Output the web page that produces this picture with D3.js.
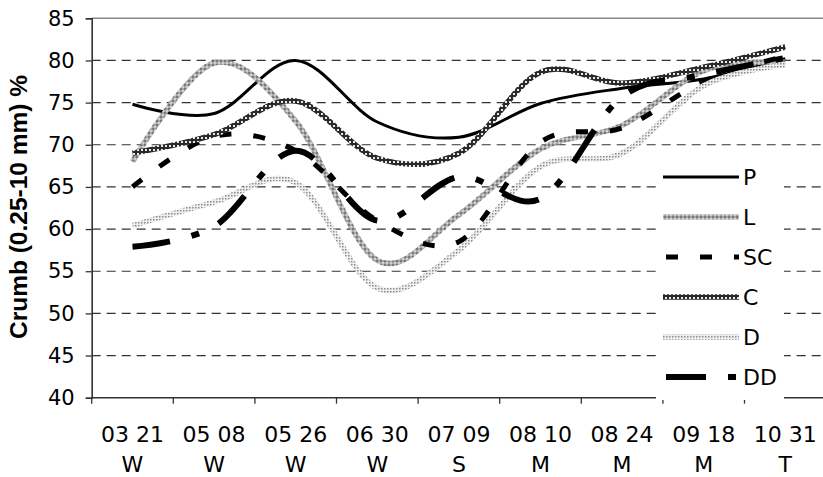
<!DOCTYPE html>
<html>
<head>
<meta charset="utf-8">
<script src="https://cdn.jsdelivr.net/npm/d3@7"></script>
<style>
  html, body { margin: 0; padding: 0; background: #fff; }
  svg { display: block; }
  text { font-family: "DejaVu Sans", "Liberation Sans", Arial, sans-serif; fill: #000; }
</style>
</head>
<body>
<svg id="chart" width="823" height="477"></svg>
<script>
// ---- data ----
const categories = ["03 21", "05 08", "05 26", "06 30", "07 09", "08 10", "08 24", "09 18", "10 31"];
const subLabels  = ["W", "W", "W", "W", "S", "M", "M", "M", "T"];
const seriesNames = ["P", "L", "SC", "C", "D", "DD"];
const P  = [74.8, 73.7, 80.0, 72.7, 70.9, 74.9, 76.7, 77.8, 80.2];
const L  = [68.0, 79.7, 72.8, 56.3, 61.7, 69.5, 72.3, 78.8, 79.8];
const SC = [65.0, 71.0, 69.3, 61.0, 58.5, 70.3, 72.0, 77.5, 80.5];
const C  = [69.0, 71.2, 75.2, 68.4, 69.0, 78.6, 77.3, 79.2, 81.6];
const D  = [60.4, 63.2, 65.5, 53.0, 57.5, 67.4, 69.0, 77.0, 79.5];
const DD = [57.9, 60.3, 69.3, 61.0, 66.2, 63.6, 75.7, 78.3, 80.3];
const yTicks = [40, 45, 50, 55, 60, 65, 70, 75, 80, 85];

const seriesValues = [P, L, SC, C, D, DD];

// ---- layout ----
const svg = d3.select("#chart");
const plotLeft = 91.7, plotTop = 18.3, plotBottom = 397.7, band = 81.6;
const plotRight = plotLeft + band * categories.length;

const x = d3.scaleBand().domain(categories).range([plotLeft, plotRight]).padding(0);
const y = d3.scaleLinear().domain([40, 85]).range([plotBottom, plotTop]);
const cx = c => x(c) + x.bandwidth() / 2;

// patterns
const defs = svg.append("defs");
function pat(id, size, bg, dots) {
  const p = defs.append("pattern").attr("id", id).attr("patternUnits", "userSpaceOnUse")
    .attr("width", size).attr("height", size);
  p.append("rect").attr("width", size).attr("height", size).attr("fill", bg);
  dots.forEach(d => p.append("rect").attr("x", d[0]).attr("y", d[1]).attr("width", d[2]).attr("height", d[2]).attr("fill", d[3]));
}
pat("patL", 4, "#a8a8a8", [[0, 0, 2, "#7a7a7a"], [2, 2, 2, "#cfcfcf"]]);
pat("patC", 4, "#2a2a2a", [[1, 1, 2, "#e8e8e8"]]);
pat("patD", 3, "#eeeeee", [[0, 0, 1.5, "#8a8a8a"]]);

const styles = {
  P:  { stroke: "#000", width: 3, dash: null },
  L:  { stroke: "url(#patL)", width: 5.5, dash: null },
  SC: { stroke: "#000", width: 5, dash: "12,22" },
  C:  { stroke: "url(#patC)", width: 5.5, dash: null },
  D:  { stroke: "url(#patD)", width: 5.5, dash: null },
  DD: { stroke: "#000", width: 6, dash: "38,22,8,22" }
};

// top border
svg.append("line").attr("x1", plotLeft).attr("x2", 823).attr("y1", plotTop).attr("y2", plotTop)
  .attr("stroke", "#8a8a8a").attr("stroke-width", 1.5);

// gridlines
svg.append("g").selectAll("line").data(yTicks.filter(t => t > 40 && t < 85)).join("line")
  .attr("x1", plotLeft).attr("x2", 823)
  .attr("y1", d => y(d)).attr("y2", d => y(d))
  .attr("stroke", "#333").attr("stroke-width", 1.2).attr("stroke-dasharray", "9,6");

// y axis
const yAxis = svg.append("g").attr("transform", `translate(${plotLeft},0)`)
  .call(d3.axisLeft(y).tickValues(yTicks).tickSize(6).tickPadding(11).tickFormat(d3.format("d")));
yAxis.select(".domain").attr("stroke", "#333").attr("stroke-width", 1.6);
yAxis.selectAll(".tick line").attr("stroke", "#333").attr("stroke-width", 1.3);
yAxis.selectAll(".tick text").style("font-size", "21px").style("font-family", '"DejaVu Sans", sans-serif').attr("fill", "#000");

// x axis
svg.append("line").attr("x1", plotLeft).attr("x2", plotRight).attr("y1", plotBottom).attr("y2", plotBottom)
  .attr("stroke", "#333").attr("stroke-width", 1.6);
svg.append("g").selectAll("line").data(categories).join("line")
  .attr("x1", d => x(d)).attr("x2", d => x(d))
  .attr("y1", plotBottom).attr("y2", plotBottom + 6)
  .attr("stroke", "#333").attr("stroke-width", 1.3);

const xl = svg.append("g").selectAll("text").data(categories).join("text")
  .attr("x", d => cx(d)).attr("text-anchor", "middle").style("font-size", "22px");
xl.append("tspan").attr("x", d => cx(d)).attr("y", 442).text(d => d);
xl.append("tspan").attr("x", d => cx(d)).attr("y", 472).text((d, i) => subLabels[i]);

// y title
svg.append("text")
  .attr("transform", `translate(27,207) rotate(-90)`)
  .attr("text-anchor", "middle")
  .style("font-family", '"Liberation Sans", Arial, sans-serif')
  .style("font-size", "24.5px").style("font-weight", "bold")
  .text("Crumb (0.25-10 mm) %");

// lines
const line = d3.line().x((d, i) => cx(categories[i])).y(d => y(d)).curve(d3.curveCardinal.tension(0));
const gLines = svg.append("g");
seriesNames.forEach((name, k) => {
  const s = styles[name];
  gLines.append("path").datum(seriesValues[k])
    .attr("d", line)
    .attr("fill", "none")
    .attr("stroke", s.stroke)
    .attr("stroke-width", s.width)
    .attr("stroke-dasharray", s.dash)
    .attr("stroke-linejoin", "round");
});

// legend
const lg = svg.append("g");
lg.append("rect").attr("x", 656).attr("y", 155).attr("width", 128).attr("height", 245).attr("fill", "#fff");
seriesNames.forEach((name, k) => {
  const yy = 177 + k * 40;
  const s = styles[name];
  lg.append("line").attr("x1", 663).attr("x2", 739).attr("y1", yy).attr("y2", yy)
    .attr("stroke", s.stroke).attr("stroke-width", s.width)
    .attr("stroke-dasharray", name === "SC" ? "12,22" : (name === "DD" ? "40,22,8,22" : s.dash))
    .attr("stroke-dashoffset", name === "SC" || name === "DD" ? -3 : 0);
  lg.append("text").attr("x", 743).attr("y", yy + 8).style("font-size", "22px").text(name);
});
</script>
</body>
</html>
